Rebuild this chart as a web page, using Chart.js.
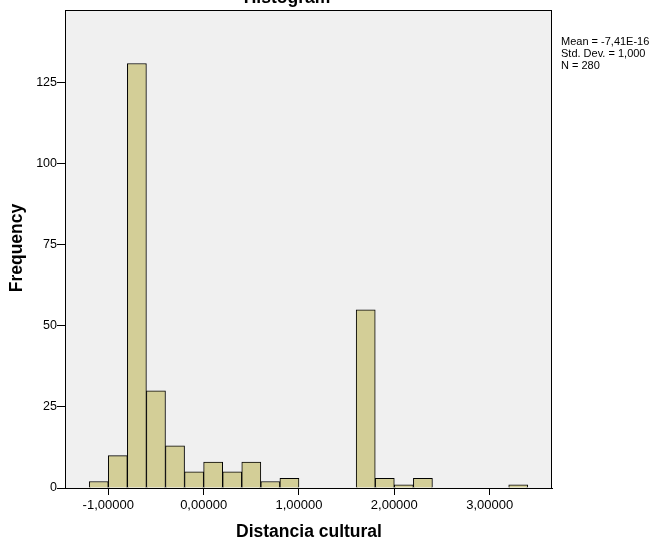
<!DOCTYPE html>
<html>
<head>
<meta charset="utf-8">
<script src="https://cdn.jsdelivr.net/npm/chart.js@4.4.0/dist/chart.umd.min.js"></script>
<style>
  body { margin: 0; background: #fff; }
  canvas { display: block; }
</style>
</head>
<body>
<canvas id="histo" width="665" height="545"></canvas>
<script>
// histogram bins (lower edge, width 0.2) and their counts
const binLower = [-1.2, -1.0, -0.8, -0.6, -0.4, -0.2, 0.0, 0.2, 0.4, 0.6, 0.8, 1.6, 1.8, 2.0, 2.2, 3.2];
const frequency = [2, 10, 131, 30, 13, 5, 8, 5, 8, 2, 3, 55, 3, 1, 3, 1];
const binWidth = 0.2;

const xTicks = [-1, 0, 1, 2, 3];
const yTicks = [0, 25, 50, 75, 100, 125];
const statsLines = ['Mean = -7,41E-16', 'Std. Dev. = 1,000', 'N = 280'];

const points = binLower.map((lo, i) => ({ x: lo + binWidth / 2, y: frequency[i] }));

const frame = {
    id: 'frame',
    beforeDraw(chart) {
        const { ctx, chartArea: a } = chart;
        ctx.save();
        ctx.fillStyle = '#f0f0f0';
        ctx.fillRect(a.left, a.top, a.right - a.left, a.bottom - a.top);
        ctx.restore();
    },
    afterDraw(chart) {
        const { ctx, chartArea: a } = chart;
        ctx.save();
        ctx.strokeStyle = '#000';
        ctx.lineWidth = 1;
        ctx.strokeRect(a.left + 0.5, a.top + 0.5, a.right - a.left - 1, a.bottom - a.top);

        ctx.fillStyle = '#000';
        ctx.font = 'bold 17.5px "Liberation Sans", Arial, sans-serif';
        ctx.textAlign = 'center';
        ctx.textBaseline = 'alphabetic';
        ctx.fillText('Histogram', 287, 3);

        ctx.textBaseline = 'middle';
        ctx.fillText('Distancia cultural', 309, 532);
        ctx.translate(17, 248);
        ctx.rotate(-Math.PI / 2);
        ctx.fillText('Frequency', 0, 0);
        ctx.setTransform(1, 0, 0, 1, 0, 0);

        ctx.font = '11px "Liberation Sans", Arial, sans-serif';
        ctx.textAlign = 'left';
        statsLines.forEach((s, i) => ctx.fillText(s, 561, 42 + i * 12));
        ctx.restore();
    }
};

new Chart(document.getElementById('histo'), {
    type: 'bar',
    data: {
        datasets: [{
            data: points,
            backgroundColor: '#d3ce97',
            borderColor: '#000',
            borderWidth: 1,
            barPercentage: 1,
            categoryPercentage: 1
        }]
    },
    options: {
        responsive: false,
        animation: false,
        layout: { padding: { top: 10, right: 113, left: 0, bottom: 0 } },
        plugins: { legend: { display: false }, tooltip: { enabled: false } },
        scales: {
            x: {
                type: 'linear',
                offset: false,
                min: -1.454,
                max: 3.654,
                afterBuildTicks: s => { s.ticks = xTicks.map(v => ({ value: v })); },
                afterFit: s => { s.height = 57; },
                grid: { display: true, drawOnChartArea: false, drawTicks: true, tickLength: 7, tickColor: '#000', offset: false },
                border: { display: true, color: '#000' },
                ticks: {
                    color: '#000',
                    padding: 3,
                    maxRotation: 0,
                    font: { family: '"Liberation Sans", Arial, sans-serif', size: 13 },
                    callback: v => v.toFixed(5).replace('.', ',')
                }
            },
            y: {
                min: 0,
                max: 147.5,
                afterBuildTicks: s => { s.ticks = yTicks.map(v => ({ value: v })); },
                afterFit: s => { s.width = 65; },
                grid: { display: true, drawOnChartArea: false, drawTicks: true, tickLength: 8, tickColor: '#000' },
                border: { display: true, color: '#000' },
                ticks: {
                    color: '#000',
                    padding: 0,
                    font: { family: '"Liberation Sans", Arial, sans-serif', size: 12.5 }
                }
            }
        }
    },
    plugins: [frame]
});
</script>
</body>
</html>
